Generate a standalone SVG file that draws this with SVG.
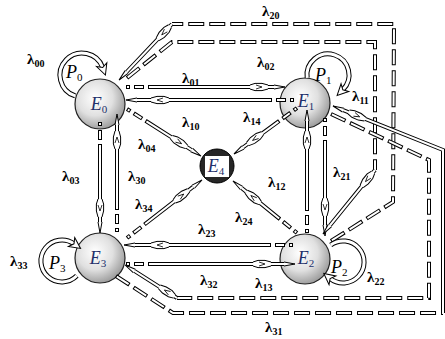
<svg xmlns="http://www.w3.org/2000/svg" width="445" height="339" viewBox="0 0 445 339">
<defs>
<radialGradient id="g" cx="0.4" cy="0.38" r="0.65">
<stop offset="0" stop-color="#ffffff"/><stop offset="0.55" stop-color="#e0e0e0"/><stop offset="1" stop-color="#9a9a9a"/>
</radialGradient>
<marker id="tip" markerUnits="userSpaceOnUse" orient="auto" overflow="visible" markerWidth="1" markerHeight="1">
<path d="M0,-2 L11,0 L0,2" fill="#fff" stroke="#000" stroke-width="1"/>
</marker>
<marker id="bulge" markerUnits="userSpaceOnUse" orient="auto" overflow="visible" markerWidth="1" markerHeight="1">
<path d="M-9,-2 L-4,-3.6 L3,-3.6 L9,-2 L9,2 L3,3.6 L-4,3.6 L-9,2Z" fill="#fff"/>
<path d="M-9,-2 L-4,-3.6 L3,-3.6 L9,-2 M9,2 L3,3.6 L-4,3.6 L-9,2" fill="none" stroke="#000" stroke-width="1"/>
<path d="M-3,-2 L3,0 L-3,2" fill="none" stroke="#000" stroke-width="0.8"/>
</marker>
<marker id="la" markerUnits="userSpaceOnUse" orient="auto" overflow="visible" markerWidth="1" markerHeight="1">
<path d="M-3,-5.5 L8,0 L-3,5.5 L0,0Z" fill="#fff" stroke="#000" stroke-width="1"/>
</marker>
<style>
.nd{fill:url(#g);stroke:#222;stroke-width:1.2}
.el{font-family:"Liberation Serif",serif;font-style:italic;font-size:18px;fill:#22306a;text-anchor:middle}
.es{font-style:normal;font-size:11px}
.pl{font-family:"Liberation Serif",serif;font-style:italic;font-size:18px;fill:#000}
.ps{font-style:normal;font-size:11px}
.lb{font-family:"Liberation Serif",serif;font-weight:bold;font-size:15px;fill:#000}
.ls{font-size:10px}
.ko{fill:none;stroke:#000;stroke-width:4}
.ki{fill:none;stroke:#fff;stroke-width:2}
.so{stroke-dasharray:4 4 10 4 2000 0}
.si{stroke-dasharray:0 1 2 6 8 6 2000 0}
.do{stroke-dasharray:16 5}
.di{stroke-dasharray:14 7;stroke-dashoffset:-1}
.m{marker-mid:url(#bulge);marker-end:url(#tip)}
.t{marker-end:url(#tip)}
.bo{fill:none;stroke:none;marker-end:url(#bulge)}
.lo{fill:none;stroke:#000;stroke-width:5}
.li{fill:none;stroke:#fff;stroke-width:3;marker-end:url(#la)}
</style>
</defs>
<rect width="445" height="339" fill="#fff"/>
<g id="nodes">
<g id="E0"><circle cx="100" cy="104" r="25" class="nd"/><text x="99" y="110" class="el">E<tspan class="es" dy="3">0</tspan></text></g>
<g id="E1"><circle cx="305" cy="103" r="25" class="nd"/><text x="306" y="107" class="el">E<tspan class="es" dy="3">1</tspan></text></g>
<g id="E2"><circle cx="305" cy="259" r="25" class="nd"/><text x="306" y="264" class="el">E<tspan class="es" dy="3">2</tspan></text></g>
<g id="E3"><circle cx="100" cy="258" r="25" class="nd"/><text x="98" y="264" class="el">E<tspan class="es" dy="3">3</tspan></text></g>
<g id="E4"><circle cx="217" cy="166" r="17" fill="#262626" stroke="#000" stroke-width="1"/><rect x="205" y="156" width="24" height="21" fill="#fff"/><text x="216" y="172" class="el">E<tspan class="es" dy="3">4</tspan></text></g>
</g>
<g id="connectors">
<g id="l01"><path class="ko so" d="M126,87 L259,87 L274,87"/><path class="ki si m" d="M126,87 L259,87 L274,87"/></g>
<g id="l10"><path class="ko so" d="M294,100 L160,100 L137,100"/><path class="ki si m" d="M294,100 L160,100 L137,100"/></g>
<g id="l03"><path class="ko so" d="M100,122 L100,208 L100,222"/><path class="ki si m" d="M100,122 L100,208 L100,222"/></g>
<g id="l30"><path class="ko so" d="M117,232 L117,140 L117,125"/><path class="ki si m" d="M117,232 L117,140 L117,125"/></g>
<g id="l12"><path class="ko so" d="M325,118 L325,207 L325,225"/><path class="ki si m" d="M325,118 L325,207 L325,225"/></g>
<g id="l21"><path class="ko so" d="M307,233 L307,140 L307,121"/><path class="ki si m" d="M307,233 L307,140 L307,121"/></g>
<g id="l23"><path class="ko so" d="M293,245 L160,245 L135,245"/><path class="ki si m" d="M293,245 L160,245 L135,245"/></g>
<g id="l32"><path class="ko so" d="M126,264 L262,264 L284,264"/><path class="ki si m" d="M126,264 L262,264 L284,264"/></g>
<g id="l04"><path class="ko so" d="M127,109 L179.1,142.1 L191.7,150.1"/><path class="ki si m" d="M127,109 L179.1,142.1 L191.7,150.1"/></g>
<g id="l14"><path class="ko so" d="M297,108 L255,138.7 L242.9,147.5"/><path class="ki si m" d="M297,108 L255,138.7 L242.9,147.5"/></g>
<g id="l24"><path class="ko so" d="M297,233 L253.2,197.4 L241.5,187.9"/><path class="ki si m" d="M297,233 L253.2,197.4 L241.5,187.9"/></g>
<g id="l34"><path class="ko so" d="M127,238 L181.4,195.9 L193.3,186.7"/><path class="ki si m" d="M127,238 L181.4,195.9 L193.3,186.7"/></g>
<g id="l20"><path class="ko do" d="M331,241 L393,202 L394,24 L172,24"/><path class="ki di" d="M331,241 L393,202 L394,24 L172,24"/><path class="ko" d="M172,24 L163.8,32.7 L126.6,72"/><path class="ki m" d="M172,24 L163.8,32.7 L126.6,72"/></g>
<g id="l02"><path class="ko do" d="M127,78 L172,42 L375,42 L375,170"/><path class="ki di" d="M127,78 L172,42 L375,42 L375,170"/><path class="ko" d="M375,170 L367.4,179.3 L329.9,225.5"/><path class="ki m" d="M375,170 L367.4,179.3 L329.9,225.5"/></g>
<g id="l13"><path class="ko do" d="M331,114 L429,160 L429,298 L177,298"/><path class="ki di" d="M331,114 L429,160 L429,298 L177,298"/><path class="ko" d="M177,298 L166.9,291.6 L134.3,270.9"/><path class="ki m" d="M177,298 L166.9,291.6 L134.3,270.9"/></g>
<g id="l31"><path class="ko do" d="M116,276 L173,313 L443,313"/><path class="ki di" d="M116,276 L173,313 L443,313"/><path class="ko" d="M443,313 L443,150 L343.2,110.1"/><path class="ki t" d="M443,313 L443,150 L343.2,110.1"/><path class="bo" d="M356.1,115.2 L357,115.6"/></g>
<g id="l00"><path class="lo" d="M75.2,95.9 A22,22 0 1 1 102.7,67.5"/><path class="li" d="M75.2,95.9 A22,22 0 1 1 102.7,67.5"/></g>
<g id="l11"><path class="lo" d="M307.2,77.9 A21,21 0 1 1 342.8,89.8"/><path class="li" d="M307.2,77.9 A21,21 0 1 1 342.8,89.8"/></g>
<g id="l22"><path class="lo" d="M330.7,245 A21,21 0 1 1 330.1,278.5"/><path class="li" d="M330.7,245 A21,21 0 1 1 330.1,278.5"/></g>
<g id="l33"><path class="lo" d="M76.8,275.8 A21,21 0 1 1 74,243.8"/><path class="li" d="M76.8,275.8 A21,21 0 1 1 74,243.8"/></g>
</g>
<g id="labels">
<text class="pl" x="66" y="78">P<tspan class="ps" dy="3">0</tspan></text>
<text class="pl" x="315" y="81">P<tspan class="ps" dy="3">1</tspan></text>
<text class="pl" x="331" y="273">P<tspan class="ps" dy="3">2</tspan></text>
<text class="pl" x="49" y="269">P<tspan class="ps" dy="3">3</tspan></text>
<text class="lb" x="262" y="16">λ<tspan class="ls" dy="3">20</tspan></text>
<text class="lb" x="27" y="64">λ<tspan class="ls" dy="3">00</tspan></text>
<text class="lb" x="257" y="67">λ<tspan class="ls" dy="3">02</tspan></text>
<text class="lb" x="182" y="83">λ<tspan class="ls" dy="3">01</tspan></text>
<text class="lb" x="352" y="101">λ<tspan class="ls" dy="3">11</tspan></text>
<text class="lb" x="182" y="127">λ<tspan class="ls" dy="3">10</tspan></text>
<text class="lb" x="243" y="122">λ<tspan class="ls" dy="3">14</tspan></text>
<text class="lb" x="138" y="149">λ<tspan class="ls" dy="3">04</tspan></text>
<text class="lb" x="62" y="181">λ<tspan class="ls" dy="3">03</tspan></text>
<text class="lb" x="128" y="181">λ<tspan class="ls" dy="3">30</tspan></text>
<text class="lb" x="135" y="209">λ<tspan class="ls" dy="3">34</tspan></text>
<text class="lb" x="268" y="187">λ<tspan class="ls" dy="3">12</tspan></text>
<text class="lb" x="333" y="177">λ<tspan class="ls" dy="3">21</tspan></text>
<text class="lb" x="235" y="222">λ<tspan class="ls" dy="3">24</tspan></text>
<text class="lb" x="198" y="234">λ<tspan class="ls" dy="3">23</tspan></text>
<text class="lb" x="10" y="266">λ<tspan class="ls" dy="3">33</tspan></text>
<text class="lb" x="200" y="285">λ<tspan class="ls" dy="3">32</tspan></text>
<text class="lb" x="255" y="288">λ<tspan class="ls" dy="3">13</tspan></text>
<text class="lb" x="367" y="282">λ<tspan class="ls" dy="3">22</tspan></text>
<text class="lb" x="265" y="332">λ<tspan class="ls" dy="3">31</tspan></text>
</g>
</svg>
